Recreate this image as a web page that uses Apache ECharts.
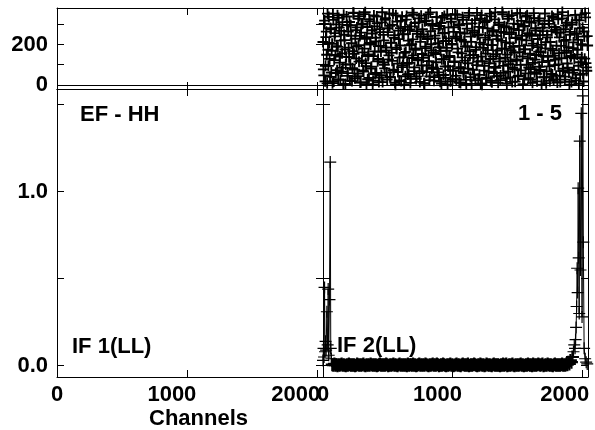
<!DOCTYPE html>
<html><head><meta charset="utf-8">
<script src="https://cdn.jsdelivr.net/npm/echarts@6/dist/echarts.min.js"></script>
<style>html,body{margin:0;padding:0;background:#fff}#c{width:595px;height:430px}</style>
</head><body><div id="c"></div>
<script>
// ---- data ----
const xTicks = [0, 1000, 2000];
const phaseTicks = [0, 100, 200, 300];
const phaseLabels = [0, 200];
const ampTicks = [0, 0.5, 1.0, 1.5];
const ampLabels = [0, 1.0];
const NCHAN = 2048;

// IF 2 phase (degrees): two interleaved sets, one value every PHASE_STEP channels
const PHASE_STEP = 6.4;
const PHASE_START_A = 0, PHASE_START_B = 3.2;
const phaseIF2a = [
212,47,318,95,263,8,174,336,129,281,61,203,352,17,240,148,299,73,188,331,
110,25,267,156,84,347,221,5,139,296,58,184,311,102,243,19,167,355,76,228,
131,284,44,197,340,12,258,121,303,66,179,359,93,236,28,151,325,207,81,270,
3,142,289,54,215,338,117,192,36,261,164,309,14,247,99,322,185,61,280,126,
351,40,209,158,297,71,233,11,344,177,105,268,22,195,316,88,250,137,2,287,
163,341,52,219,109,274,31,202,357,146,68,306,181,41,253,124,329,15,238,97,
276,134,9,314,189,63,227,350,118,42,265,171,301,86,21,244,153,335,79,206,
48,291,168,7,333,216,127,257,35,183,348,92,230,144,18,312,199,70,285,113,
239,27,346,161,82,295,10,222,136,321,57,254,190,4,278,107,343,166,39,213,
304,75,148,260,23,186,356,115,249,50,327,140,1,282,201,94,234,30,319,172,
65,245,128,339,13,197,271,89,358,152,43,226,307,116,24,262,180,349,60,290,
135,210,6,326,103,251,37,170,345,85,277,159,16,232,120,300,46,193,354,72,
224,141,288,29,176,337,100,256,33,313,154,78,242,11,204,330,125,269,55,187,
317,90,246,162,2,283,143,38,353,211,67,235,119,302,20,178,266,51,332,145,
98,272,194,12,324,157,45,259,132,360,80,218,26,293,169,106,342,62,248,138,
15,308,182,74,255,34,320,150,223,6,279,112,347,198,56,264,130,334,87,241
];
const phaseIF2b = [
77,301,18,236,149,352,94,207,40,275,168,9,321,123,256,59,192,344,27,283,
140,219,66,310,3,248,175,101,338,45,264,137,22,295,206,83,357,154,33,271,
189,56,327,115,242,13,298,161,72,350,228,108,4,286,143,35,315,199,90,254,
21,343,166,233,60,305,128,14,276,193,48,359,111,220,82,330,170,26,261,146,
292,37,208,119,353,76,246,1,184,313,64,226,135,281,19,337,97,251,158,43,
323,104,272,53,196,10,289,133,225,348,87,174,30,266,122,309,58,213,342,153,
68,249,6,182,318,96,237,145,24,358,201,79,293,160,39,230,112,336,62,277,
186,16,306,127,255,49,341,91,217,169,2,284,138,73,327,203,28,262,116,349,
45,231,179,299,12,259,88,156,334,64,214,120,25,302,190,81,356,147,239,5,
268,134,52,320,173,98,245,31,287,209,7,345,118,183,71,311,155,36,279,224,
107,352,20,197,263,141,59,324,84,242,170,11,296,130,47,218,360,94,257,178,
32,285,150,67,339,205,117,260,15,188,303,78,233,126,354,42,271,162,99,316,
243,4,176,292,57,220,344,132,86,251,27,308,194,109,355,63,280,148,18,227,
164,329,74,198,113,266,38,301,181,9,247,139,317,92,212,55,340,171,26,286,
125,46,258,350,102,235,14,193,328,69,275,159,41,223,307,85,186,2,262,144,
298,61,210,131,346,23,252,174,95,319,50,201,137,283,17,239,355,108,70,195
];

// IF 2 amplitude: [channel, amp] near the band edges, baseline in between
const ampSpikeLeft = [[0,0.03],[4,0.10],[8,0.05],[12,0.45],[16,0.08],[20,0.14],[24,0.09],[30,0.31],[36,0.12],[40,0.44],[44,0.06],[50,0.38],[56,1.17],[60,0.10],[64,0.04]];
const BASE_START = 72, BASE_STEP = 8;
const ampBaseline = [
0.006,0.003,0.010,0.003,0.006,0.000,0.006,0.003,0.006,0.010,0.003,0.006,0.003,0.000,0.006,0.003,0.010,0.006,0.003,0.006,
0.003,0.006,0.000,0.003,0.010,0.006,0.003,0.006,0.003,0.006,0.010,0.003,0.000,0.006,0.003,0.006,0.003,0.010,0.006,0.003,
0.006,0.003,0.006,0.000,0.003,0.006,0.010,0.003,0.006,0.003,0.006,0.003,0.010,0.006,0.000,0.003,0.006,0.003,0.006,0.010,
0.003,0.006,0.003,0.000,0.006,0.010,0.003,0.006,0.003,0.006,0.003,0.006,0.000,0.010,0.003,0.006,0.006,0.003,0.010,0.003,
0.006,0.000,0.003,0.006,0.010,0.003,0.006,0.003,0.006,0.003,0.010,0.006,0.003,0.000,0.006,0.003,0.006,0.010,0.003,0.006,
0.003,0.010,0.006,0.000,0.003,0.006,0.003,0.010,0.006,0.003,0.000,0.006,0.003,0.006,0.010,0.003,0.006,0.000,0.003,0.006,
0.010,0.003,0.006,0.003,0.000,0.006,0.010,0.006,0.003,0.006,0.003,0.010,0.000,0.003,0.006,0.003,0.006,0.010,0.006,0.003,
0.000,0.006,0.003,0.010,0.006,0.003,0.006,0.000,0.003,0.010,0.006,0.003,0.006,0.003,0.000,0.006,0.010,0.003,0.006,0.003,
0.006,0.003,0.000,0.006,0.003,0.010,0.003,0.006,0.010,0.000,0.003,0.006,0.003,0.006,0.010,0.003,0.000,0.006,0.003,0.006,
0.003,0.006,0.010,0.003,0.006,0.000,0.003,0.006,0.003,0.010,0.006,0.003,0.006,0.000,0.010,0.003,0.006,0.003,0.006,0.010,
0.006,0.003,0.006,0.010,0.000,0.003,0.006,0.003,0.010,0.006,0.003,0.006,0.003,0.000,0.006,0.010,0.003,0.006,0.003,0.006,
0.003,0.006,0.010,0.003,0.006,0.003,0.010,0.006,0.020,0.010,0.030,0.020,0.050
];
const ampSpikeRight = [[1936,0.08],[1942,0.12],[1948,0.10],[1952,0.15],[1956,0.22],[1960,0.34],[1964,0.56],[1968,0.42],[1972,1.02],[1976,0.62],[1980,0.30],[1984,1.29],[1990,0.55],[1996,1.45],[2002,0.28],[2008,1.55],[2012,0.71],[2018,0.10],[2026,0.04],[2034,0.02],[2042,0.01]];

// ---- build ----
const phasePts = phaseIF2a.map((v, i) => [PHASE_START_A + i * PHASE_STEP, v])
  .concat(phaseIF2b.map((v, i) => [PHASE_START_B + i * PHASE_STEP, v]));
const basePts = ampBaseline.map((v, i) => [BASE_START + i * BASE_STEP, v]);
const spikePts = ampSpikeLeft.concat(ampSpikeRight);
const ampPts = ampSpikeLeft.concat(basePts).concat(ampSpikeRight);

const plus = w => { const a = (5 - w / 2).toFixed(2), b = (5 + w / 2).toFixed(2);
  return 'path://M' + a + ',0H' + b + 'V' + a + 'H10V' + b + 'H' + b + 'V10H' + a + 'V' + b + 'H0V' + a + 'H' + a + 'Z'; };
const PLUS_P = plus(1.65), PLUS_A = plus(1.0), PLUS_B = plus(1.7);
const FONT = 'Liberation Sans';
const txt = { color: '#000', fontFamily: FONT, fontWeight: 'bold', fontSize: 22 };
const line = { show: true, onZero: false, lineStyle: { color: '#000', width: 1 } };

const grids = [
  { left: 57, top: 8, width: 266, height: 81 },
  { left: 323, top: 8, width: 265, height: 81 },
  { left: 57, top: 89, width: 266, height: 288 },
  { left: 323, top: 89, width: 265, height: 288 }
];

const shifts = [{ 1000: 30, 2000: 42 }, { 1000: 30, 2000: 34 }];
function xAx(g, pos, labelled, which) {
  return {
    type: 'value', gridIndex: g, position: pos, min: 0, max: NCHAN,
    axisLine: line, splitLine: { show: false },
    axisTick: { show: true, inside: true, length: 7, customValues: xTicks, lineStyle: { color: '#000' } },
    axisLabel: labelled ? {
      show: true, margin: 7, customValues: xTicks,
      formatter: v => v === 0 ? '{n|0}' : '{s' + v + '|' + v + '}',
      rich: {
        n: txt,
        s1000: Object.assign({}, txt, { padding: [0, shifts[which][1000], 0, 0] }),
        s2000: Object.assign({}, txt, { padding: [0, shifts[which][2000], 0, 0] })
      }
    } : { show: false }
  };
}
function yAx(g, pos, min, max, ticks, labels, fmt, showLab) {
  return {
    type: 'value', gridIndex: g, position: pos, min: min, max: max,
    axisLine: line, splitLine: { show: false },
    axisTick: { show: true, inside: true, length: 7, customValues: ticks, lineStyle: { color: '#000' } },
    axisLabel: showLab ? Object.assign({ show: true, margin: 9, customValues: labels, formatter: fmt }, txt) : { show: false }
  };
}
const PMIN = -20, PMAX = 380, AMIN = -0.065, AMAX = 1.59;
const pf = v => String(v), af = v => v.toFixed(1);

const xAxis = [], yAxis = [];
// grid g -> bottom x = 2g, top x = 2g+1 ; left y = 2g, right y = 2g+1
for (let g = 0; g < 4; g++) {
  const isAmp = g >= 2, isIF1 = g % 2 === 0;
  xAxis.push(xAx(g, 'bottom', isAmp, isIF1 ? 0 : 1));
  xAxis.push(xAx(g, 'top', false, 0));
  if (isAmp) {
    yAxis.push(yAx(g, 'left', AMIN, AMAX, ampTicks, ampLabels, af, isIF1));
    yAxis.push(yAx(g, 'right', AMIN, AMAX, ampTicks, ampLabels, af, false));
  } else {
    yAxis.push(yAx(g, 'left', PMIN, PMAX, phaseTicks, phaseLabels, pf, isIF1));
    yAxis.push(yAx(g, 'right', PMIN, PMAX, phaseTicks, phaseLabels, pf, false));
  }
}

const zeroLine = { silent: true, symbol: 'none', label: { show: false },
  lineStyle: { color: '#000', width: 1, type: 'solid' }, data: [{ yAxis: 0 }] };

const series = [
  { type: 'scatter', xAxisIndex: 0, yAxisIndex: 0, data: [], markLine: zeroLine },
  { type: 'scatter', xAxisIndex: 2, yAxisIndex: 2, data: phasePts, symbol: PLUS_P, symbolSize: 11,
    itemStyle: { color: '#000', borderWidth: 0, opacity: 1 }, markLine: zeroLine },
  { type: 'line', xAxisIndex: 6, yAxisIndex: 6, data: ampPts, showSymbol: false, symbol: 'none',
    lineStyle: { color: '#000', width: 1 } },
  { type: 'scatter', xAxisIndex: 6, yAxisIndex: 6, data: basePts, symbol: PLUS_B, symbolSize: 13,
    itemStyle: { color: '#000', borderWidth: 0, opacity: 1 } },
  { type: 'scatter', xAxisIndex: 6, yAxisIndex: 6, data: spikePts, symbol: PLUS_A, symbolSize: 12,
    itemStyle: { color: '#000', borderWidth: 0, opacity: 1 } }
];

const T = (t, x, y) => ({ type: 'text', left: x, top: y,
  style: { text: t, fill: '#000', font: 'bold 22px "' + FONT + '"' } });

const chart = echarts.init(document.getElementById('c'), null, { renderer: 'canvas' });
chart.setOption({
  animation: false,
  backgroundColor: '#fff',
  grid: grids,
  xAxis: xAxis,
  yAxis: yAxis,
  series: series,
  graphic: [
    T('EF - HH', 80, 104),
    T('1 - 5', 518, 103),
    T('IF 1(LL)', 72, 336),
    T('IF 2(LL)', 337, 335),
    T('Channels', 149, 408)
  ]
});
</script></body></html>
